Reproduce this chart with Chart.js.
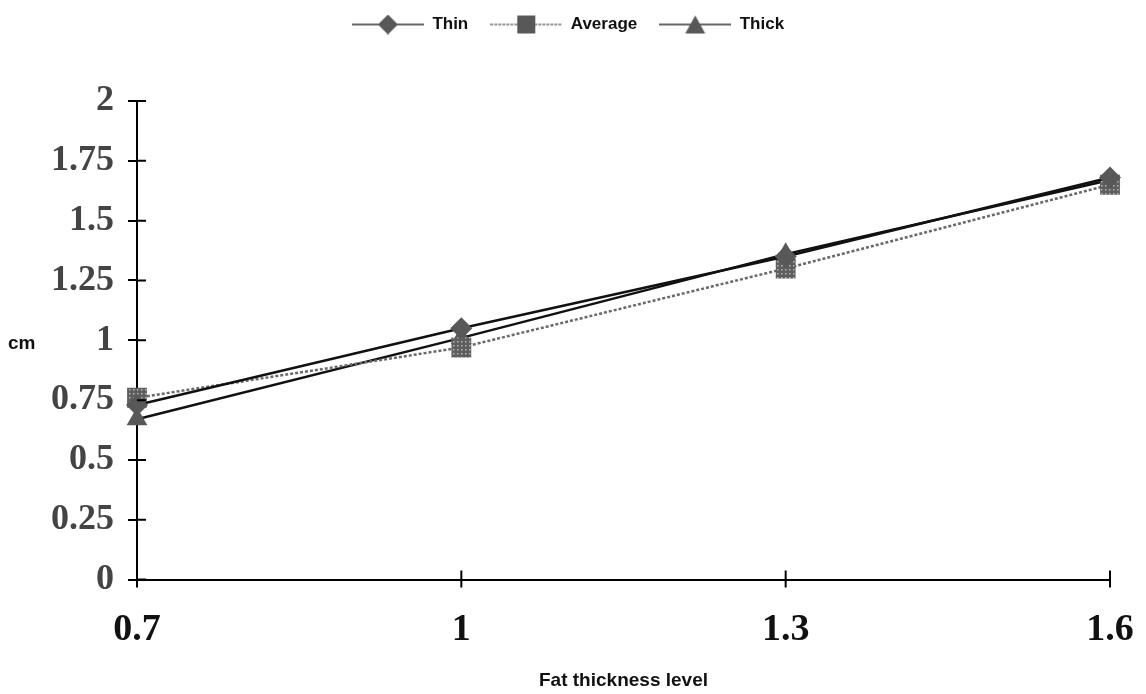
<!DOCTYPE html>
<html>
<head>
<meta charset="utf-8">
<title>Fat thickness level</title>
<script src="https://cdn.jsdelivr.net/npm/chart.js@4/dist/chart.umd.min.js"></script>
<style>
  body { margin: 0; background: #fff; }
  #wrap { position: relative; width: 1146px; height: 694px; }
</style>
</head>
<body>
<div id="wrap"><canvas id="chart"></canvas></div>
<script>
// Valores por nível de gordura (cm)
const levels = ['0.7', '1', '1.3', '1.6'];
const thin = [0.73, 1.05, 1.35, 1.68];
const average = [0.76, 0.97, 1.30, 1.65];
const thick = [0.67, 1.01, 1.36, 1.67];
const yMax = 2;
const yStep = 0.25;

const markerGrey = '#585858';

// Textura pontilhada do marcador quadrado
function dotPattern() {
    const c = document.createElement('canvas');
    c.width = 4; c.height = 4;
    const g = c.getContext('2d');
    g.fillStyle = '#5e5e5e';
    g.fillRect(0, 0, 4, 4);
    g.fillStyle = '#b4b4b4';
    g.fillRect(1, 1, 1.5, 1.5);
    return g.createPattern(c, 'repeat');
}

// Ícone da legenda: linha com o marcador no meio
function legendIcon(shape, dashed) {
    const c = document.createElement('canvas');
    c.width = 72; c.height = 20;
    const g = c.getContext('2d');
    g.strokeStyle = dashed ? '#777' : '#333';
    g.lineWidth = 1.5;
    if (dashed) g.setLineDash([3, 1]);
    g.beginPath(); g.moveTo(0, 10); g.lineTo(72, 10); g.stroke();
    g.setLineDash([]);
    g.fillStyle = markerGrey;
    g.beginPath();
    if (shape === 'rectRot') {
        g.moveTo(36, 0); g.lineTo(46, 10); g.lineTo(36, 20); g.lineTo(26, 10);
    } else if (shape === 'rect') {
        g.rect(27, 1, 18, 18);
    } else {
        g.moveTo(36, 1); g.lineTo(46, 19); g.lineTo(26, 19);
    }
    g.closePath(); g.fill();
    return c;
}

const icons = [legendIcon('rectRot', false), legendIcon('rect', true), legendIcon('triangle', false)];

// Espaço extra abaixo da legenda
const legendGap = {
    id: 'legendGap',
    beforeInit(chart) {
        const fit = chart.legend.fit;
        chart.legend.fit = function () {
            fit.bind(chart.legend)();
            this.height += 58;
        };
    }
};

// Marcas dos eixos cruzando a linha e rótulo "cm"
const axisExtras = {
    id: 'axisExtras',
    afterDraw(chart) {
        const ctx = chart.ctx;
        const x = chart.scales.x, y = chart.scales.y;
        ctx.save();
        ctx.strokeStyle = '#000';
        ctx.lineWidth = 2;
        ctx.beginPath();
        y.ticks.forEach((t, i) => {
            const py = y.getPixelForTick(i);
            ctx.moveTo(x.left, py); ctx.lineTo(x.left + 9, py);
        });
        x.ticks.forEach((t, i) => {
            const px = x.getPixelForTick(i);
            ctx.moveTo(px, y.bottom + 8); ctx.lineTo(px, y.bottom - 9);
        });
        ctx.stroke();
        ctx.fillStyle = '#111';
        ctx.font = 'bold 19px "Liberation Sans", Arial, sans-serif';
        ctx.textAlign = 'left';
        ctx.textBaseline = 'middle';
        ctx.fillText('cm', 8, y.getPixelForValue(1) + 3);
        ctx.restore();
    }
};

function createChart(chartId) {
    const ctx = document.getElementById(chartId).getContext('2d');
    new Chart(ctx, {
        type: 'line',
        data: {
            labels: levels,
            datasets: [{
                label: 'Thin',
                data: thin,
                borderColor: '#111',
                borderWidth: 2.5,
                pointStyle: 'rectRot',
                pointRadius: 11,
                pointBackgroundColor: markerGrey,
                pointBorderWidth: 0
            }, {
                label: 'Average',
                data: average,
                borderColor: '#6a6a6a',
                borderWidth: 2.5,
                borderDash: [3, 2],
                pointStyle: 'rect',
                pointRadius: 14,
                pointBackgroundColor: dotPattern(),
                pointBorderWidth: 0
            }, {
                label: 'Thick',
                data: thick,
                borderColor: '#111',
                borderWidth: 2.5,
                pointStyle: 'triangle',
                pointRadius: 12,
                pointBackgroundColor: markerGrey,
                pointBorderWidth: 0
            }]
        },
        options: {
            responsive: true,
            maintainAspectRatio: false,
            animation: false,
            layout: { padding: { top: -6, right: 36, bottom: 2, left: 26 } },
            plugins: {
                legend: {
                    position: 'top',
                    labels: {
                        usePointStyle: true,
                        pointStyleWidth: 72,
                        padding: 22,
                        color: '#111',
                        font: { family: '"Liberation Sans", Arial, sans-serif', size: 17, weight: 'bold' },
                        generateLabels(chart) {
                            const items = Chart.defaults.plugins.legend.labels.generateLabels(chart);
                            items.forEach((it, i) => { it.pointStyle = icons[i]; });
                            return items;
                        }
                    }
                },
                tooltip: { enabled: false }
            },
            scales: {
                x: {
                    type: 'category',
                    offset: false,
                    afterFit(scale) { scale.paddingLeft = 0; scale.paddingRight = 0; },
                    grid: { display: true, drawOnChartArea: false, drawTicks: false, color: 'rgba(0,0,0,0)' },
                    border: { display: true, color: '#000', width: 2 },
                    ticks: {
                        color: '#111',
                        padding: 28,
                        maxRotation: 0,
                        font: { family: '"Liberation Serif", "Times New Roman", serif', size: 38, weight: 'bold' }
                    },
                    title: {
                        display: true,
                        text: 'Fat thickness level',
                        color: '#111',
                        padding: { top: -12, bottom: 0 },
                        font: { family: '"Liberation Sans", Arial, sans-serif', size: 19, weight: 'bold' }
                    }
                },
                y: {
                    min: 0,
                    max: yMax,
                    afterFit(scale) { scale.width = 111; },
                    grid: { drawOnChartArea: false, drawTicks: true, tickLength: 9, color: '#000', lineWidth: 2 },
                    border: { display: true, color: '#000', width: 2 },
                    ticks: {
                        stepSize: yStep,
                        color: '#444',
                        padding: 14,
                        callback: (v) => String(+v.toFixed(2)),
                        font: { family: '"Liberation Serif", "Times New Roman", serif', size: 36, weight: 'bold' }
                    }
                }
            }
        },
        plugins: [legendGap, axisExtras]
    });
}

window.onload = function () {
    createChart('chart');
};
</script>
</body>
</html>
